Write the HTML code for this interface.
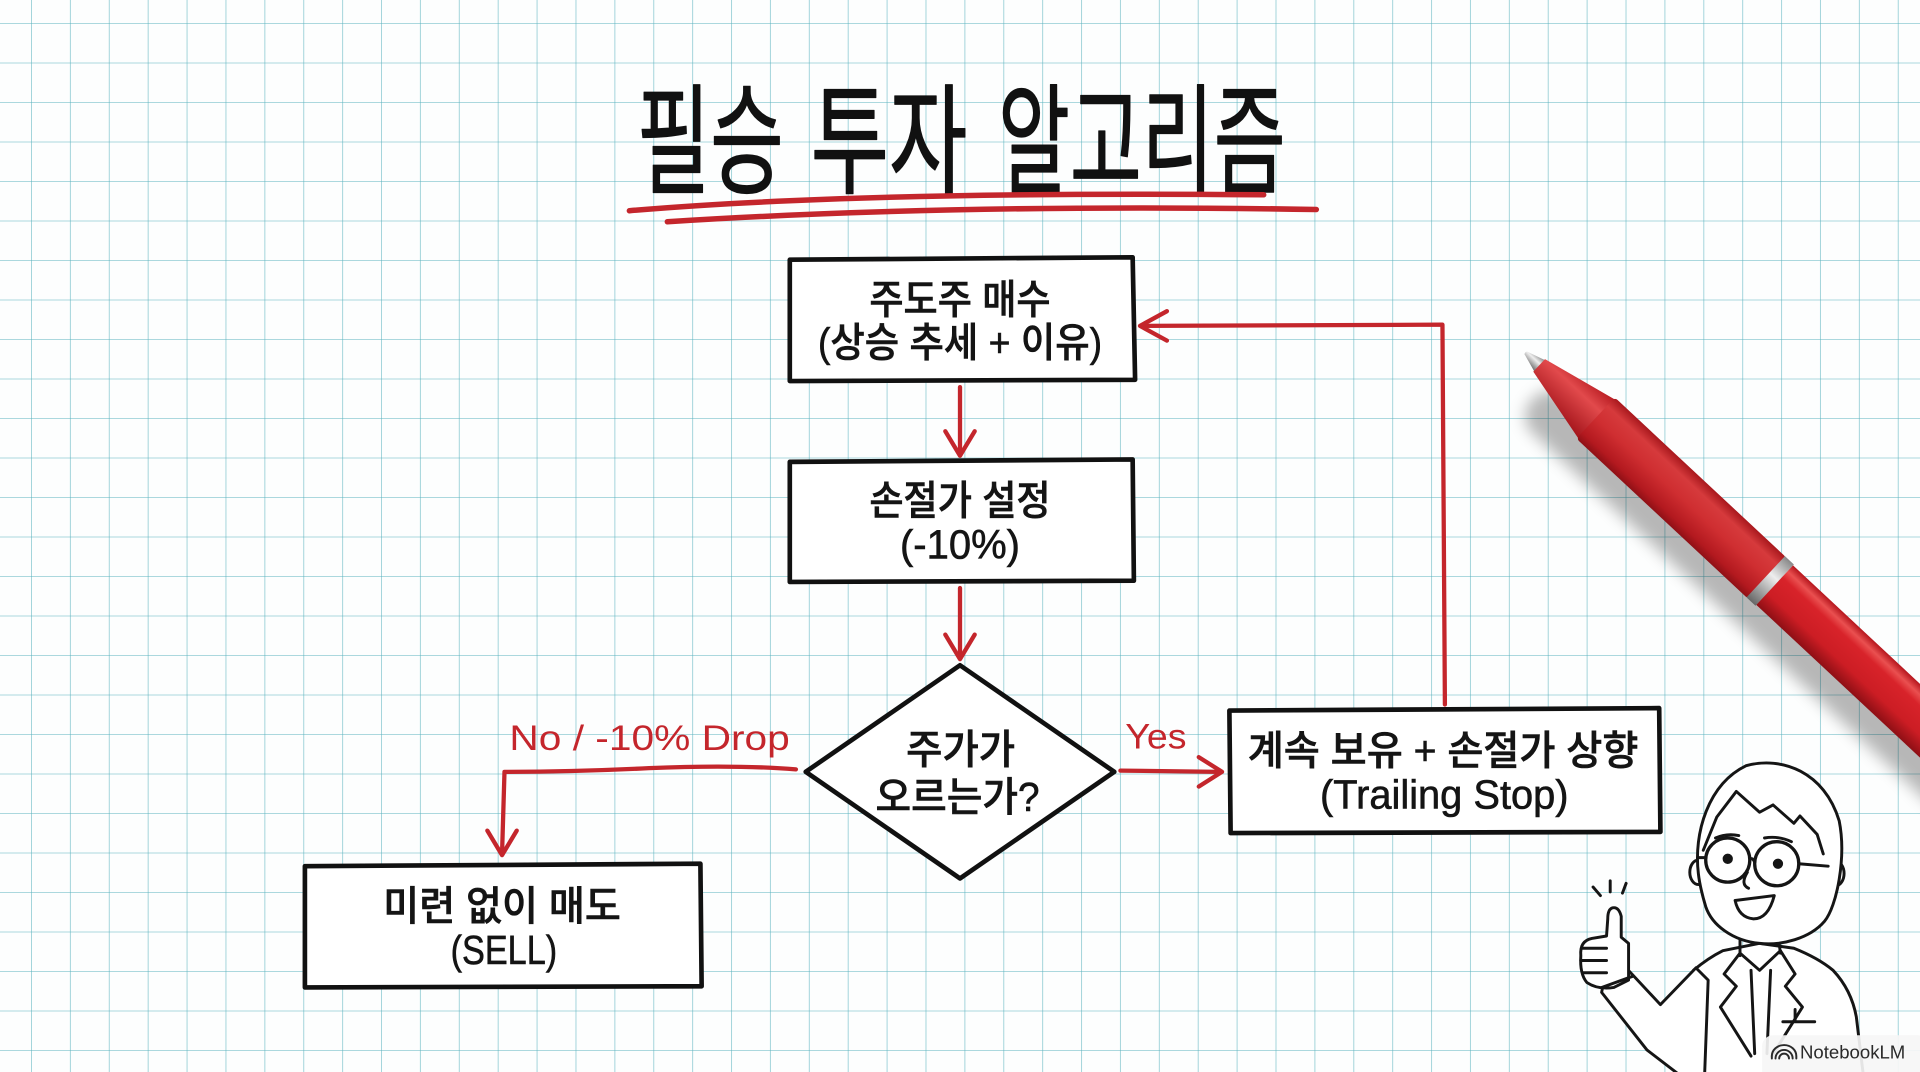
<!DOCTYPE html>
<html><head><meta charset="utf-8">
<style>
html,body{margin:0;padding:0;width:1920px;height:1072px;overflow:hidden;}
body{background-color:#fdfefe;
background-image:linear-gradient(to right,rgba(90,178,190,.55) 1px,transparent 1px),linear-gradient(to bottom,rgba(90,178,190,.5) 1px,transparent 1px);
background-size:38.9px 39.5px;background-position:31px 23px;}
svg{position:absolute;left:0;top:0;}
.k{font-family:"Liberation Sans","Noto Sans CJK KR",sans-serif;font-weight:500;fill:#141414;stroke:#141414;stroke-width:0.5;}
.t{font-family:"Liberation Sans","Noto Sans CJK KR",sans-serif;font-weight:400;fill:#111;stroke:#111;stroke-width:1;stroke-linejoin:round;}
.r{font-family:"Liberation Sans",sans-serif;fill:#c4262c;}
</style></head><body>
<svg width="1920" height="1072" viewBox="0 0 1568 875" preserveAspectRatio="none" xmlns="http://www.w3.org/2000/svg">
<defs>
<filter id="blur" x="-20%" y="-50%" width="140%" height="200%"><feGaussianBlur stdDeviation="6"/></filter>
<linearGradient id="grip" x1="0" y1="0" x2="0" y2="1">
<stop offset="0" stop-color="#a8181d"/><stop offset=".2" stop-color="#d63a3c"/><stop offset=".5" stop-color="#cf2e31"/><stop offset=".85" stop-color="#b3191f"/><stop offset="1" stop-color="#8f1016"/>
</linearGradient>
<linearGradient id="body" x1="0" y1="0" x2="0" y2="1">
<stop offset="0" stop-color="#b5161d"/><stop offset=".15" stop-color="#ea5050"/><stop offset=".3" stop-color="#d8232a"/><stop offset=".7" stop-color="#cc1d24"/><stop offset="1" stop-color="#8e0f15"/>
</linearGradient>
<linearGradient id="cone" x1="0" y1="0" x2="0" y2="1">
<stop offset="0" stop-color="#b81c22"/><stop offset=".35" stop-color="#e24a4c"/><stop offset="1" stop-color="#a3141a"/>
</linearGradient>
<linearGradient id="metal" x1="0" y1="0" x2="0" y2="1">
<stop offset="0" stop-color="#888"/><stop offset=".4" stop-color="#eee"/><stop offset="1" stop-color="#666"/>
</linearGradient>
</defs>

<!-- Title -->
<text class="t" x="520" y="150" font-size="98" textLength="120" lengthAdjust="spacingAndGlyphs">필승</text>
<text class="t" x="662" y="150" font-size="98" textLength="128" lengthAdjust="spacingAndGlyphs">투자</text>
<text class="t" x="815" y="150" font-size="98" textLength="235" lengthAdjust="spacingAndGlyphs">알고리즘</text>
<g fill="none" stroke="#c4262c" stroke-width="4.5" stroke-linecap="round">
<path d="M514,172 Q700,156 1032,159"/>
<path d="M545,181 Q780,166 1075,171"/>
</g>

<!-- Pen -->
<g transform="translate(1246,288) rotate(43)">
<rect x="30" y="4" width="560" height="40" rx="18" fill="rgba(0,0,0,0.28)" filter="url(#blur)"/>
<path d="M0,-1.5 Q-1,0 0,1.5 L16,6.5 L16,-6.5 Z" fill="url(#metal)"/>
<path d="M15,-7 L80,-22 L80,22 L15,7 Z" fill="url(#cone)"/>
<rect x="78" y="-23" width="192" height="46" rx="3" fill="url(#grip)"/>
<rect x="268" y="-23" width="10" height="46" fill="url(#metal)"/>
<rect x="278" y="-22" width="320" height="44" fill="url(#body)"/>
</g>

<!-- Connectors -->
<g fill="none" stroke="#c4262c" stroke-width="3.5" stroke-linecap="round" stroke-linejoin="round">
<path d="M784,316 L784,370"/><path d="M772,352 L784,372 L796,352"/>
<path d="M784,480 L784,537"/><path d="M772,518 L784,538 L796,518"/>
<path d="M915,629 L996,630"/><path d="M979,618 L998,630 L979,642"/>
<path d="M650,628 Q600,624 530,627 Q470,630 412,630 L410,697"/><path d="M398,678 L410,698 L422,678"/>
<path d="M1180,575 L1178,265 L933,266"/><path d="M953,254 L931,266 L953,278"/>
</g>

<!-- Boxes -->
<g fill="#fff" stroke="#111" stroke-width="3.8" stroke-linejoin="round">
<path d="M645,212 L925,210 L927,310 L645,311 Z"/>
<path d="M645,377 L925,375 L926,474 L645,475 Z"/>
<path d="M784,543 L910,630 L784,717 L658,630 Z"/>
<path d="M249,707 L572,705 L573,805 L249,806 Z"/>
<path d="M1004,580 L1355,578 L1356,679 L1005,680 Z"/>
</g>

<!-- Box texts -->
<text class="k" x="710" y="256" font-size="33" textLength="148" lengthAdjust="spacingAndGlyphs">주도주 매수</text>
<text class="k" x="668" y="291" font-size="33" textLength="232" lengthAdjust="spacingAndGlyphs">(상승 추세 + 이유)</text>
<text class="k" x="710" y="420" font-size="33" textLength="148" lengthAdjust="spacingAndGlyphs">손절가 설정</text>
<text class="k" x="735" y="456" font-size="33" textLength="98" lengthAdjust="spacingAndGlyphs">(-10%)</text>
<text class="k" x="740" y="623" font-size="33" textLength="89" lengthAdjust="spacingAndGlyphs">주가가</text>
<text class="k" x="715" y="662" font-size="33" textLength="134" lengthAdjust="spacingAndGlyphs">오르는가?</text>
<text class="k" x="313" y="751" font-size="33" textLength="194" lengthAdjust="spacingAndGlyphs">미련 없이 매도</text>
<text class="k" x="368" y="787" font-size="33" textLength="87" lengthAdjust="spacingAndGlyphs">(SELL)</text>
<text class="k" x="1019" y="624" font-size="33" textLength="319" lengthAdjust="spacingAndGlyphs">계속 보유 + 손절가 상향</text>
<text class="k" x="1078" y="660" font-size="33" textLength="203" lengthAdjust="spacingAndGlyphs">(Trailing Stop)</text>

<!-- Red labels -->
<text class="r" x="416" y="612" font-size="29" textLength="229" lengthAdjust="spacingAndGlyphs">No / -10% Drop</text>
<text class="r" x="919" y="611" font-size="29" textLength="50" lengthAdjust="spacingAndGlyphs">Yes</text>

<!-- Character -->
<g fill="#fff" stroke="#151515" stroke-width="2.4" stroke-linecap="round" stroke-linejoin="round">
<path d="M1383,792 Q1395,782 1407,776 L1437,770 L1465,774 Q1485,782 1497,792 Q1512,808 1516,830 L1522,880 L1385,880 Z"/>
<path d="M1310,800 L1328,790 L1356,820 L1385,790 L1395,800 L1392,880 L1375,880 L1345,857 L1308,810 Z"/>
<path d="M1300,766 Q1290,768 1291,780 Q1290,795 1296,802 Q1305,808 1318,806 L1330,800 L1330,770 L1324,765 L1324,748 Q1322,740 1317,741 Q1313,742 1313,750 L1312,764 Z"/>
<path d="M1292,774 L1312,774 M1291,784 L1312,784 M1293,794 L1312,794" fill="none"/>
<path d="M1308,806 L1333,797" fill="none"/>
<path d="M1421,778 L1408,795 L1418,805 L1405,822 L1430,862" fill="none"/>
<path d="M1454,776 L1466,795 L1458,805 L1472,822 L1447,862" fill="none"/>
<path d="M1421,778 L1437,792 L1454,776" fill="none"/>
<path d="M1430,792 L1433,860 M1446,792 L1443,860" fill="none"/>
<path d="M1456,834 L1482,834 M1466,824 L1466,834" fill="none"/>
<path d="M1421,765 L1421,780 M1452,762 L1454,778" fill="none"/>
<ellipse cx="1387" cy="712" rx="7" ry="10"/>
<ellipse cx="1499" cy="713" rx="7" ry="10"/>
<path d="M1387,713 C1383,680 1395,640 1426,625 C1455,617 1490,630 1502,670 C1508,700 1500,740 1490,752 C1478,766 1455,772 1437,770 C1415,768 1398,755 1393,740 C1390,730 1388,722 1387,713 Z"/>
<path d="M1391,694 L1402,667 L1418,646 L1437,663 L1448,657 L1465,672 L1470,666 L1484,681 L1489,697" fill="none"/>
<circle cx="1411" cy="702" r="18" stroke-width="2.7"/>
<circle cx="1451" cy="705" r="18" stroke-width="2.7"/>
<path d="M1429,702 Q1431,699 1433,704 M1393,700 L1387,700 M1469,705 L1493,707" fill="none"/>
<circle cx="1411" cy="701" r="3" fill="#151515"/>
<circle cx="1452" cy="705" r="3" fill="#151515"/>
<path d="M1401,684 Q1410,680 1420,682 M1441,684 Q1452,682 1463,687" fill="none"/>
<path d="M1427,712 Q1421,722 1428,725" fill="none"/>
<path d="M1417,735 Q1433,733 1449,731 Q1444,750 1432,750 Q1420,749 1417,735 Z"/>
<path d="M1301,724 L1307,731 M1315,719 L1315,728 M1328,721 L1325,729" fill="none"/>
</g>

<!-- Badge -->
<rect x="1439" y="845" width="136" height="40" rx="9" fill="rgba(246,246,246,0.92)"/>
<g fill="none" stroke="#2a2a2a" stroke-width="1.6" stroke-linecap="round">
<path d="M1450,864 A7,7 0 0 1 1464,864"/>
<path d="M1453,864 A4,4 0 0 1 1461,864"/>
<path d="M1447,864 L1447,862 A10,9 0 0 1 1467,862 L1467,864"/>
</g>
<text x="1470" y="864" font-family="Liberation Sans, sans-serif" font-size="15" fill="#2a2a2a" textLength="86" lengthAdjust="spacingAndGlyphs">NotebookLM</text>
</svg>
</body></html>
